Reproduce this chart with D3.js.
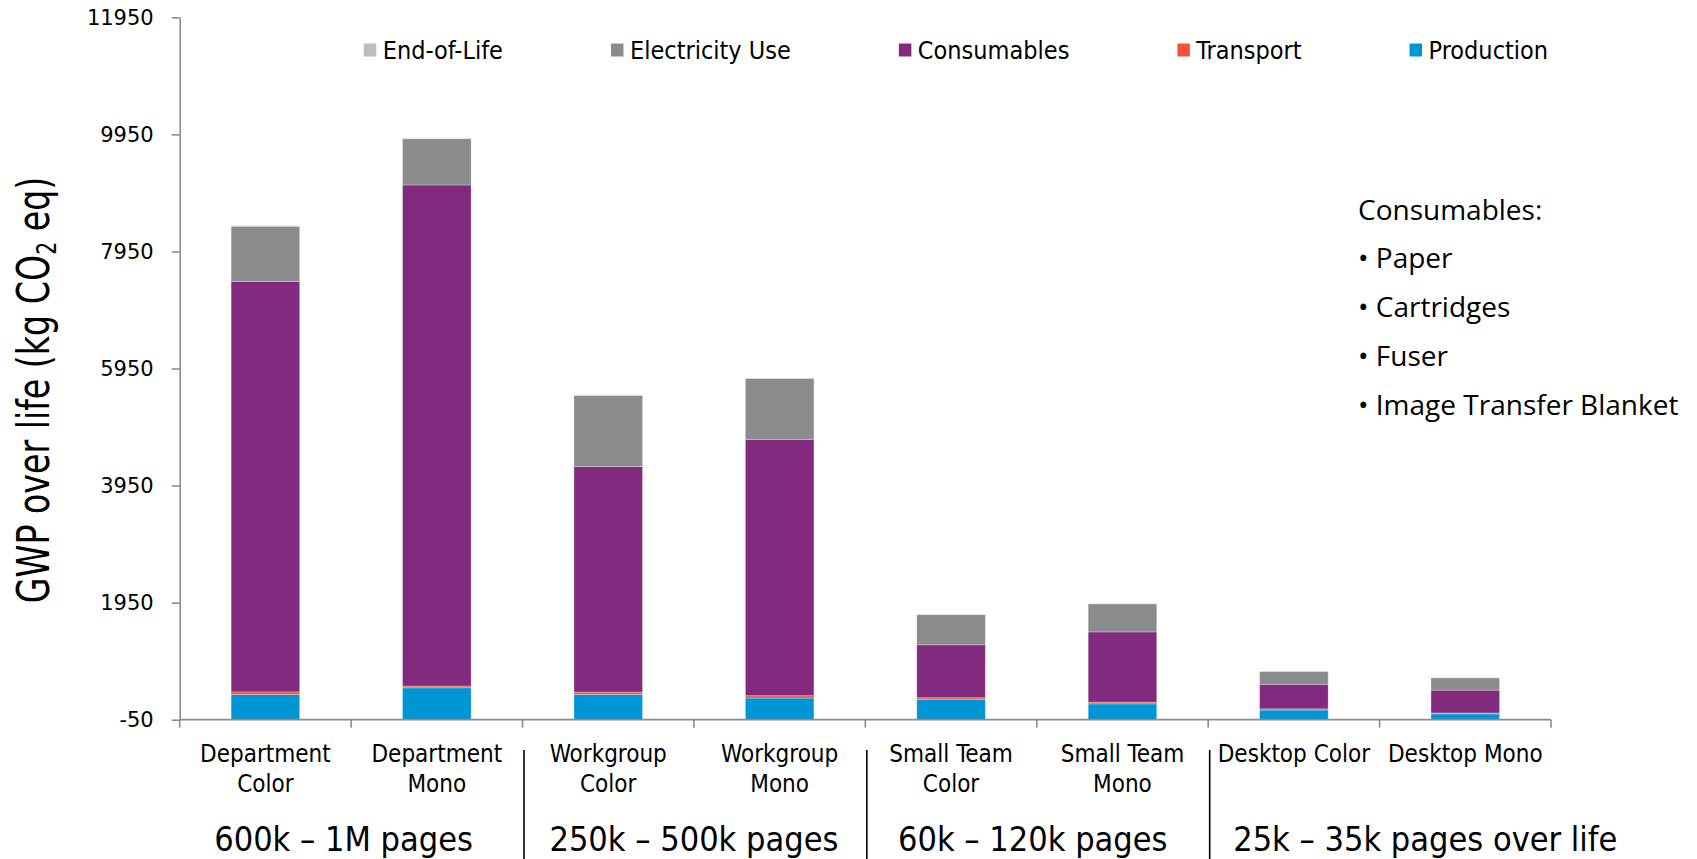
<!DOCTYPE html>
<html>
<head>
<meta charset="utf-8">
<script src="https://d3js.org/d3.v7.min.js"></script>
<style>
  body { margin: 0; background: #fff; }
  svg { display: block; }
</style>
</head>
<body>
<script>
"use strict";

// chart data
var categories = ["Department Color", "Department Mono", "Workgroup Color", "Workgroup Mono",
                  "Small Team Color", "Small Team Mono", "Desktop Color", "Desktop Mono"];
var catLines = [["Department", "Color"], ["Department", "Mono"], ["Workgroup", "Color"], ["Workgroup", "Mono"],
                ["Small Team", "Color"], ["Small Team", "Mono"], ["Desktop Color"], ["Desktop Mono"]];
var production  = [380, 495, 380, 320, 300, 220, 115, 50];
var transport   = [45, 30, 40, 40, 25, 30, 20, 15];
var consumables = [7010, 8560, 3855, 4380, 905, 1200, 420, 390];
var electricity = [945, 790, 1215, 1040, 515, 480, 220, 210];
var endOfLife   = [10, 10, 8, 8, 5, 5, 3, 3];
var yTicks = [-50, 1950, 3950, 5950, 7950, 9950, 11950];
var groupLabels = ["600k \u2013 1M pages", "250k \u2013 500k pages", "60k \u2013 120k pages", "25k \u2013 35k pages over life"];
var legendOrder = ["End-of-Life", "Electricity Use", "Consumables", "Transport", "Production"];
var noteLines = ["Consumables:", "\u2022 Paper", "\u2022 Cartridges", "\u2022 Fuser", "\u2022 Image Transfer Blanket"];

var keys = ["Production", "Transport", "Consumables", "Electricity Use", "End-of-Life"];
var colors = {
  "Production": "#0096d6",
  "Transport": "#f0553a",
  "Consumables": "#822a7e",
  "Electricity Use": "#8a8b8d",
  "End-of-Life": "#bdbdbd"
};

var rows = categories.map(function (c, i) {
  return {
    cat: c,
    "Production": production[i],
    "Transport": transport[i],
    "Consumables": consumables[i],
    "Electricity Use": electricity[i],
    "End-of-Life": endOfLife[i]
  };
});

var W = 1697, H = 859;
var plotL = 179.7, plotR = 1551, plotT = 17.3, plotB = 719.7;

var svg = d3.select("body").append("svg")
  .attr("width", W).attr("height", H);

var x = d3.scaleBand().domain(categories).range([plotL, plotR])
  .paddingInner(0.6).paddingOuter(0.3);
var y = d3.scaleLinear().domain([-50, 11950]).range([plotB, plotT]);

var stack = d3.stack().keys(keys)(rows);

// bars
svg.append("g").selectAll("g")
  .data(stack)
  .join("g")
    .attr("fill", function (s) { return colors[s.key]; })
  .selectAll("rect")
  .data(function (s) { return s; })
  .join("rect")
    .attr("x", function (d) { return x(d.data.cat); })
    .attr("width", x.bandwidth())
    .attr("y", function (d) { return y(d[1]); })
    .attr("height", function (d) {
      var base = d[0] === 0 ? -50 : d[0];   // columns start at the axis crossing (-50)
      return y(base) - y(d[1]);
    })
    .attr("stroke", "rgba(255,255,255,0.35)")
    .attr("stroke-width", 0.8);

// y axis
var yAxis = svg.append("g")
  .attr("transform", "translate(" + plotL + ",0)")
  .call(d3.axisLeft(y).tickValues(yTicks).tickSize(8).tickSizeOuter(0).tickPadding(18)
    .tickFormat(function (d) { return String(d); }));
yAxis.selectAll("path, line").attr("stroke", "#8c8c8c").attr("stroke-width", 1.6);
yAxis.selectAll("text")
  .attr("font-family", "DejaVu Sans, sans-serif")
  .attr("font-size", 21)
  .attr("fill", "#000");

// x axis line with ticks at the category boundaries
var step = x.step();
var bounds = d3.range(categories.length + 1).map(function (i) {
  return i < categories.length ? x(categories[i]) - step * 0.3 : x(categories[i - 1]) + step * 0.7;
});
var xAxis = svg.append("g");
xAxis.append("line")
  .attr("x1", plotL).attr("x2", plotR)
  .attr("y1", plotB).attr("y2", plotB)
  .attr("stroke", "#8c8c8c").attr("stroke-width", 1.8);
xAxis.selectAll(".tk").data(bounds).join("line")
  .attr("class", "tk")
  .attr("x1", function (d) { return d; }).attr("x2", function (d) { return d; })
  .attr("y1", plotB).attr("y2", plotB + 8)
  .attr("stroke", "#8c8c8c").attr("stroke-width", 1.6);

// category labels
var condensed = "'DejaVu Sans Condensed', 'DejaVu Sans', sans-serif";
svg.append("g").selectAll("text")
  .data(categories)
  .join("text")
    .attr("text-anchor", "middle")
    .attr("font-family", condensed)
    .attr("font-stretch", "condensed")
    .attr("font-size", 24)
    .attr("fill", "#000")
    .each(function (c, i) {
      var t = d3.select(this);
      catLines[i].forEach(function (ln, j) {
        t.append("tspan")
          .attr("x", x(c) + x.bandwidth() / 2)
          .attr("y", 762 + j * 30)
          .text(ln);
      });
    });

// group labels and separators (text boxes sit a little off-centre in the original)
var groupShift = [-7.5, 0, -4, 0];
groupLabels.forEach(function (g, i) {
  var a = bounds[i * 2], b = bounds[i * 2 + 2];
  var last = i === groupLabels.length - 1;
  svg.append("text")
    .attr("x", (last ? a + 25 : (a + b) / 2) + groupShift[i])
    .attr("y", 851)
    .attr("text-anchor", last ? "start" : "middle")
    .attr("font-family", condensed)
    .attr("font-stretch", "condensed")
    .attr("font-size", 34)
    .attr("fill", "#000")
    .text(g);
  if (i > 0) {
    svg.append("line")
      .attr("x1", a + 1.5).attr("x2", a + 1.5)
      .attr("y1", 750).attr("y2", H)
      .attr("stroke", "#000").attr("stroke-width", 1.6);
  }
});

// y axis title, squeezed along its length to mimic the narrow face
var yt = svg.append("text")
  .attr("transform", "translate(49,390) rotate(-90) scale(0.84,1)")
  .attr("text-anchor", "middle")
  .attr("font-family", condensed)
  .attr("font-stretch", "condensed")
  .attr("font-size", 44)
  .attr("fill", "#000");
yt.append("tspan").text("GWP over life (kg CO");
yt.append("tspan").attr("font-size", 27).attr("dy", 7).text("2");
yt.append("tspan").attr("dy", -7).text(" eq)");

// legend
var lg = svg.append("g");
var lx = 363.7;
legendOrder.forEach(function (k) {
  lg.append("rect")
    .attr("x", lx).attr("y", 43.5)
    .attr("width", 12.5).attr("height", 13)
    .attr("fill", colors[k]);
  var t = lg.append("text")
    .attr("x", lx + 19).attr("y", 58.5)
    .attr("font-family", condensed)
    .attr("font-stretch", "condensed")
    .attr("font-size", 25)
    .attr("fill", "#000")
    .text(k);
  lx += 19 + t.node().getComputedTextLength() + 108;
});

// consumables note
svg.append("g").selectAll("text")
  .data(noteLines)
  .join("text")
    .attr("x", 1358)
    .attr("y", function (d, i) { return 219.7 + i * 48.7; })
    .attr("font-family", "'Open Sans', 'Noto Sans', sans-serif")
    .attr("font-size", 28)
    .attr("fill", "#000")
    .text(function (d) { return d; });
</script>
</body>
</html>
